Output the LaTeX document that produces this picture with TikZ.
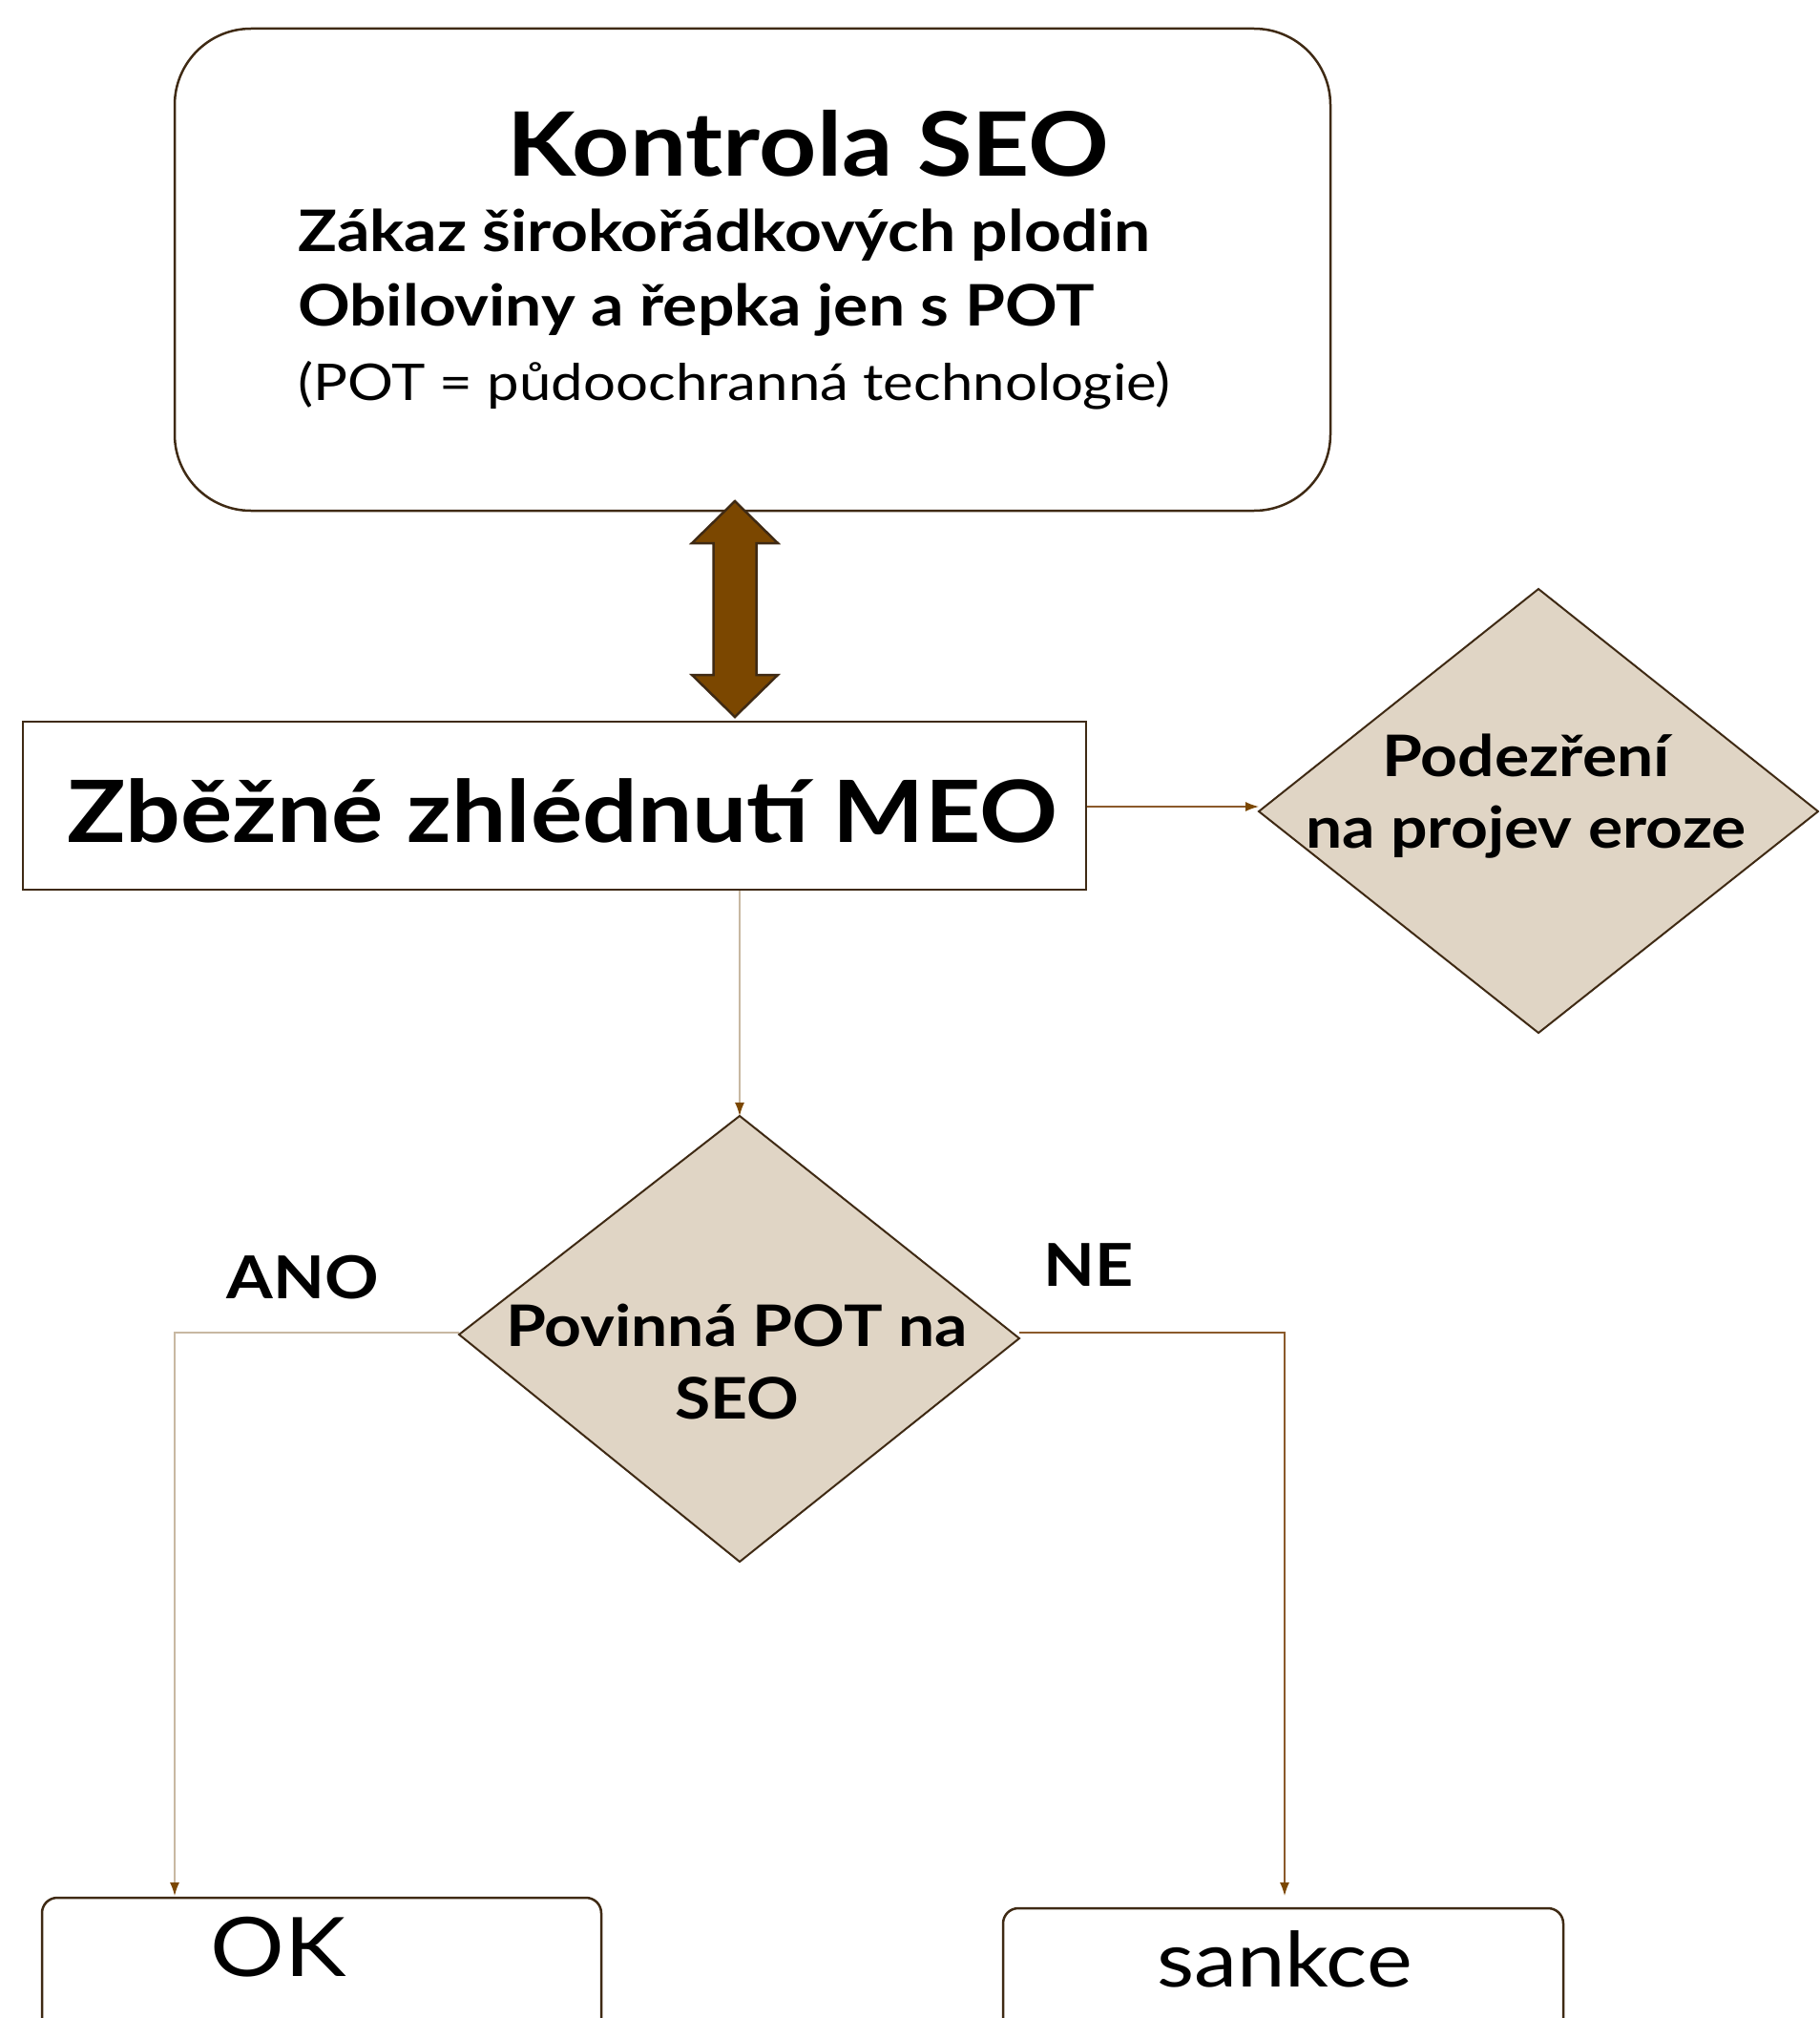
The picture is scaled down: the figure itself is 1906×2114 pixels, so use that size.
\documentclass[tikz,border=0pt]{standalone}
\usepackage{fontspec}
\setmainfont{Lato}[FakeStretch=1.13]
\usetikzlibrary{arrows.meta}
\definecolor{edge}{HTML}{3F2A14}
\definecolor{tan}{HTML}{E0D5C5}
\definecolor{arrowbrown}{HTML}{7B4700}
\definecolor{linebrown}{HTML}{8B5A2B}
\definecolor{lightline}{HTML}{C8B8A2}
\tikzset{
  boxline/.style={draw=edge, line width=2.5pt},
  decision/.style={draw=edge, line width=2pt, fill=tan},
  conn/.style={draw=linebrown, line width=1.5pt, -{Latex[length=14pt,width=10pt,color=arrowbrown]}},
  lbl/.style={inner sep=0pt, font=\bfseries\fontsize{60}{70}\selectfont},
}
\begin{document}
\begin{tikzpicture}[x=1pt,y=-1pt]
\useasboundingbox (0,0) rectangle (1906,2114);
\clip (0,0) rectangle (1906,2114);
% top rounded box
\draw[boxline, rounded corners=80pt] (183,30) rectangle (1394,535);
\node[inner sep=0pt, font=\bfseries\fontsize{93}{100}\selectfont] (title) at (847,150) {Kontrola SEO};
\node[inner sep=0pt, anchor=north west, align=left, font=\fontsize{60}{78}\selectfont] (rules) at (312,219)
  {\textbf{Zákaz širokořádkových plodin}\\ \textbf{Obiloviny a řepka jen s POT}\\ {\fontsize{53}{78}\selectfont (POT = půdoochranná technologie)}};
% double block arrow
\draw[draw=edge, line width=2.5pt, fill=arrowbrown, line join=miter]
  (770,525) -- (815,569) -- (792.5,569) -- (792.5,707) -- (815,707) -- (770,751)
  -- (725,707) -- (747.5,707) -- (747.5,569) -- (725,569) -- cycle;
% MEO box
\node[boxline, fill=white, minimum width=1114pt, minimum height=176pt, inner sep=0pt] (meo) at (581,844) {};
\node[inner sep=0pt, font=\bfseries\fontsize{90}{100}\selectfont] (meotext) at (589,849) {Zběžné zhlédnutí MEO};
% right diamond
\draw[decision] (1319,850) -- (1612,617) -- (1905,850) -- (1612,1082) -- cycle;
\coordinate (dR) at (1319,845);
\node[lbl] (pod1) at (1599,791) {Podezření};
\node[lbl] (pod2) at (1599,872) {na projev eroze};
% lower diamond
\draw[decision] (481,1398) -- (775,1169) -- (1068,1402) -- (775,1636) -- cycle;
\coordinate (dT) at (775,1169);
\coordinate (dL) at (481,1396);
\coordinate (dRr) at (1068,1396);
\node[lbl] (pov1) at (772,1388) {Povinná POT na};
\node[lbl] (pov2) at (772,1465) {SEO};
% labels
\node[lbl, font=\bfseries\fontsize{62}{70}\selectfont] (ano) at (317,1338) {ANO};
\node[lbl, font=\bfseries\fontsize{62}{70}\selectfont] (ne) at (1141,1325) {NE};
% bottom boxes
\draw[boxline, rounded corners=16pt] (44,1988) rectangle (630,2160);
\node[inner sep=0pt, font=\fontsize{86}{100}\selectfont] (ok) at (292,2040) {OK};
\draw[boxline, rounded corners=16pt] (1051,1999) rectangle (1638,2160);
\node[inner sep=0pt, font=\fontsize{80}{100}\selectfont] (sankce) at (1346,2052) {sankce};
\coordinate (okT) at (183,1986);
\coordinate (saT) at (1346,1986);
% connectors
\draw[conn] (meo.east |- dR) -- (dR);
\draw[conn, draw=lightline] (meo.south -| dT) -- (dT);
\draw[conn, draw=lightline] (dL) -| (okT);
\draw[conn] (dRr) -| (saT);
\end{tikzpicture}
\end{document}
